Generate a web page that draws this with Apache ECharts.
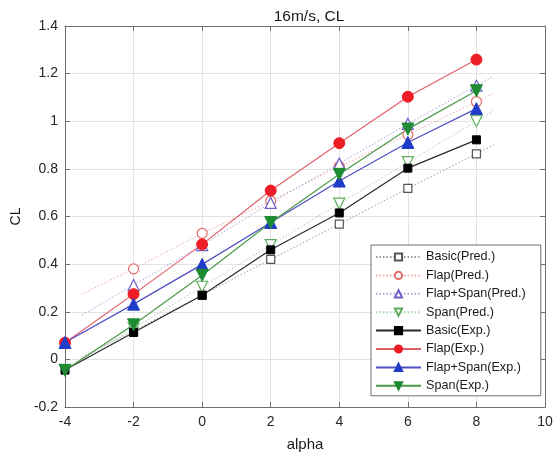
<!DOCTYPE html>
<html>
<head>
<meta charset="utf-8">
<style>
  html, body { margin: 0; padding: 0; background: #fff; }
  #chart { width: 556px; height: 457px; }
</style>
<script src="https://cdn.jsdelivr.net/npm/echarts@6/dist/echarts.min.js"></script>
</head>
<body>
<div id="chart"></div>
<script>
// Lift coefficient vs. angle of attack at 16 m/s
const alpha = [-4, -2, 0, 2, 4, 6, 8];
const predAlpha = [-2, 0, 2, 4, 6, 8];
const fitAlpha = [-3.5, 8.5];

// Measured values
const basicExp     = [-0.045, 0.113, 0.269, 0.460, 0.615, 0.803, 0.922];
const flapExp      = [0.070, 0.274, 0.483, 0.709, 0.908, 1.103, 1.259];
const flapSpanExp  = [0.071, 0.232, 0.399, 0.575, 0.749, 0.911, 1.053];
const spanExp      = [-0.046, 0.145, 0.353, 0.575, 0.777, 0.967, 1.128];

// Predicted values
const basicPred    = [0.120, 0.270, 0.420, 0.568, 0.718, 0.863];
const flapPred     = [0.380, 0.529, 0.665, 0.810, 0.944, 1.082];
const flapSpanPred = [0.312, 0.480, 0.657, 0.822, 0.989, 1.149];
const spanPred     = [0.130, 0.305, 0.480, 0.654, 0.828, 1.000];

// Ends of the dotted trend lines of the predictions
const basicPredFit    = [0.010, 0.900];
const flapPredFit     = [0.275, 1.117];
const flapSpanPredFit = [0.186, 1.190];
const spanPredFit     = [0.000, 1.044];

const FONT = '"Liberation Sans", Arial, sans-serif';

function pairs(xs, ys) {
  return xs.map((x, i) => [x, ys[i]]);
}
function predData(ys, fit) {
  const pts = pairs(predAlpha, ys);
  return [{ value: [fitAlpha[0], fit[0]], symbol: 'none' }]
    .concat(pts)
    .concat([{ value: [fitAlpha[1], fit[1]], symbol: 'none' }]);
}

function predSeries(name, ys, fit, symbol, size, color, lineColor, rotate) {
  return {
    name: name, type: 'line', data: predData(ys, fit),
    symbol: symbol, symbolSize: size, symbolRotate: rotate || 0,
    showAllSymbol: true,
    itemStyle: { color: '#ffffff', borderColor: color, borderWidth: 1.2 },
    lineStyle: { color: lineColor, width: 1, type: [1.5, 2] },
    emphasis: { disabled: true }, animation: false
  };
}
function expSeries(name, ys, symbol, size, color, lineColor, rotate) {
  return {
    name: name, type: 'line', data: pairs(alpha, ys),
    symbol: symbol, symbolSize: size, symbolRotate: rotate || 0,
    showAllSymbol: true,
    itemStyle: { color: color, borderColor: color, borderWidth: 1 },
    lineStyle: { color: lineColor, width: 1.2 },
    emphasis: { disabled: true }, animation: false
  };
}

const chart = echarts.init(document.getElementById('chart'), null, { renderer: 'canvas' });

const axisLineStyle = { color: '#6e6e6e', width: 1 };
const tickStyle = { show: true, inside: true, length: 5, lineStyle: { color: '#6e6e6e' } };

chart.setOption({
  backgroundColor: '#ffffff',
  animation: false,
  title: {
    text: '16m/s, CL',
    left: 304, top: 4, textAlign: 'center',
    textStyle: { fontFamily: FONT, fontSize: 15.5, fontWeight: 'normal', color: '#1a1a1a' }
  },
  grid: {
    left: 65, top: 26, width: 480, height: 381,
    containLabel: false, outerBoundsMode: 'none'
  },
  legend: {
    orient: 'vertical',
    left: 371, top: 245,
    backgroundColor: '#ffffff',
    borderColor: '#6e6e6e', borderWidth: 1, borderRadius: 0,
    padding: [5, 15, 3, 4],
    itemWidth: 45, itemHeight: 9, itemGap: 4.4,
    textStyle: { fontFamily: FONT, fontSize: 12.6, color: '#1a1a1a', lineHeight: 14 },
    selectedMode: false,
    data: ['Basic(Pred.)', 'Flap(Pred.)', 'Flap+Span(Pred.)', 'Span(Pred.)',
           'Basic(Exp.)', 'Flap(Exp.)', 'Flap+Span(Exp.)', 'Span(Exp.)']
  },
  xAxis: [
    {
      type: 'value', position: 'bottom', min: -4, max: 10, interval: 2,
      name: 'alpha', nameLocation: 'middle', nameGap: 30,
      nameTextStyle: { fontFamily: FONT, fontSize: 15, color: '#1a1a1a' },
      axisLine: { show: true, onZero: false, lineStyle: axisLineStyle },
      axisTick: tickStyle,
      axisLabel: { show: true, margin: 8, fontFamily: FONT, fontSize: 14, color: '#262626',
                   showMinLabel: true, showMaxLabel: true, hideOverlap: false },
      splitLine: { show: true, lineStyle: { color: '#e3e3e3', width: 1 } }
    },
    {
      type: 'value', position: 'top', min: -4, max: 10, interval: 2,
      axisLine: { show: true, onZero: false, lineStyle: axisLineStyle },
      axisTick: tickStyle,
      axisLabel: { show: false },
      splitLine: { show: false }
    }
  ],
  yAxis: [
    {
      type: 'value', position: 'left', min: -0.2, max: 1.4, interval: 0.2,
      name: 'CL', nameLocation: 'middle', nameGap: 42, nameRotate: 90,
      nameTextStyle: { fontFamily: FONT, fontSize: 14, color: '#1a1a1a' },
      axisLine: { show: true, onZero: false, lineStyle: axisLineStyle },
      axisTick: tickStyle,
      axisLabel: { show: true, margin: 7, fontFamily: FONT, fontSize: 14, color: '#262626',
                   showMinLabel: true, showMaxLabel: true, hideOverlap: false },
      splitLine: { show: true, lineStyle: { color: '#e3e3e3', width: 1 } }
    },
    {
      type: 'value', position: 'right', min: -0.2, max: 1.4, interval: 0.2,
      axisLine: { show: true, onZero: false, lineStyle: axisLineStyle },
      axisTick: tickStyle,
      axisLabel: { show: false },
      splitLine: { show: false }
    }
  ],
  series: [
    predSeries('Basic(Pred.)', basicPred, basicPredFit, 'rect', 8, '#555555', '#9a9a9a'),
    predSeries('Flap(Pred.)', flapPred, flapPredFit, 'circle', 10, '#e26a6a', '#f0a8a8'),
    predSeries('Flap+Span(Pred.)', flapSpanPred, flapSpanPredFit, 'triangle', 11, '#6a5fc8', '#a8a4e0'),
    predSeries('Span(Pred.)', spanPred, spanPredFit, 'triangle', 11, '#5fae5f', '#a6d4a6', 180),
    expSeries('Basic(Exp.)', basicExp, 'rect', 8, '#000000', '#2a2a2a'),
    expSeries('Flap(Exp.)', flapExp, 'circle', 11, '#ee1c25', '#e0606a'),
    expSeries('Flap+Span(Exp.)', flapSpanExp, 'triangle', 12, '#1f3cc8', '#4f4fc0'),
    expSeries('Span(Exp.)', spanExp, 'triangle', 12, '#1e8a32', '#4a9a4a', 180)
  ]
});
</script>
</body>
</html>
